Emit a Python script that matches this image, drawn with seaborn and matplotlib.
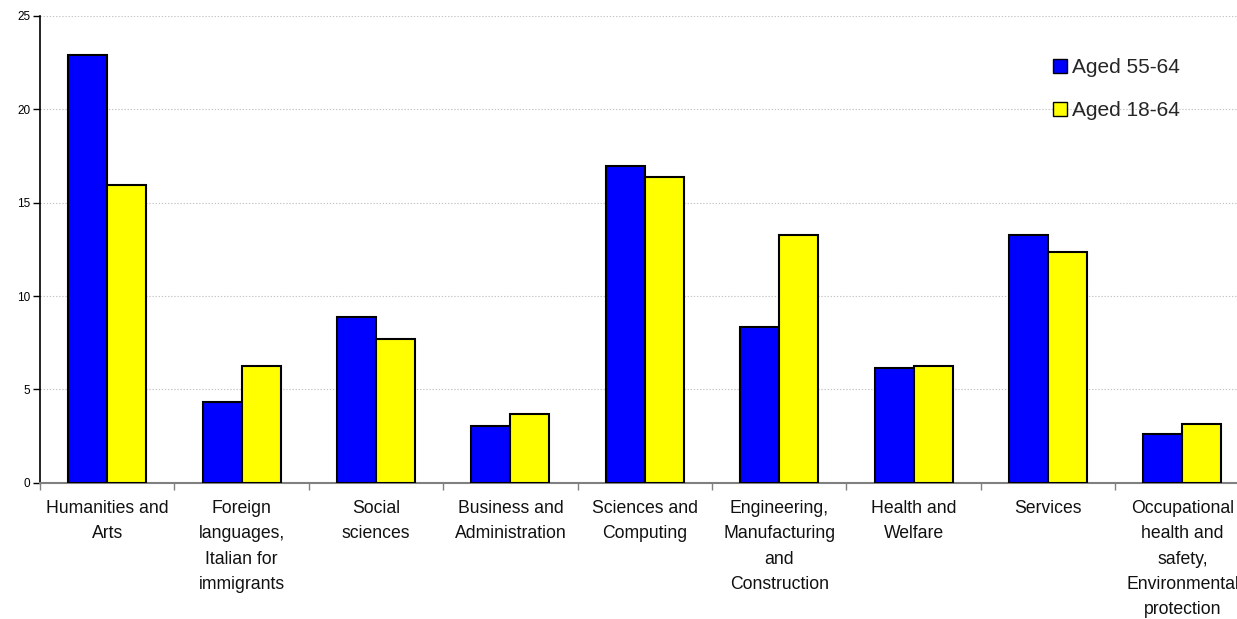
import matplotlib
matplotlib.use("Agg")
import matplotlib.pyplot as plt
from matplotlib.lines import Line2D
from matplotlib.ticker import FixedLocator
import numpy as np
import pandas as pd
import seaborn as sns

# Share of course participants by field of study (%)
categories = [
    "Humanities and\nArts",
    "Foreign\nlanguages,\nItalian for\nimmigrants",
    "Social\nsciences",
    "Business and\nAdministration",
    "Sciences and\nComputing",
    "Engineering,\nManufacturing\nand\nConstruction",
    "Health and\nWelfare",
    "Services",
    "Occupational\nhealth and\nsafety,\nEnvironmental\nprotection",
]
aged_55_64 = [22.9, 4.34, 8.9, 3.04, 16.95, 8.34, 6.14, 13.28, 2.59]
aged_18_64 = [15.93, 6.25, 7.68, 3.68, 16.39, 13.28, 6.25, 12.36, 3.13]
series_names = ["Aged 55-64", "Aged 18-64"]
series_colors = ["#0000ff", "#ffff00"]
y_ticks = [0, 5, 10, 15, 20, 25]

df = pd.DataFrame({
    "category": categories * 2,
    "value": aged_55_64 + aged_18_64,
    "group": [series_names[0]] * len(categories) + [series_names[1]] * len(categories),
})

sns.set_theme(style="white")
plt.rcParams["font.family"] = ["Liberation Sans", "DejaVu Sans"]

W, H = 1237, 619
fig = plt.figure(figsize=(W / 100, H / 100), dpi=100)
fig.patch.set_facecolor("white")
ax_left, ax_right = 40, 40 + 9 * 134.4
ax_bottom, ax_top = 482.7, 16
ax = fig.add_axes([ax_left / W, (H - ax_bottom) / H,
                   (ax_right - ax_left) / W, (ax_bottom - ax_top) / H])

sns.barplot(data=df, x="category", y="value", hue="group", order=categories,
            hue_order=series_names, palette=series_colors, width=0.58,
            edgecolor="black", linewidth=1.5, saturation=1, ax=ax,
            legend=False, zorder=3)

ax.set_xlim(-0.5, len(categories) - 0.5)
ax.set_ylim(0, 25)
ax.set_xlabel("")
ax.set_ylabel("")

# y axis
ax.set_yticks(y_ticks)
ax.set_yticklabels([str(t) for t in y_ticks], fontsize=8.5, color="black")
ax.yaxis.grid(True, linestyle=(0, (1.2, 1.6)), color="#c4c4c4", linewidth=0.8, zorder=0)
ax.xaxis.grid(False)
ax.tick_params(axis="y", which="major", left=True, length=5, width=1,
               color="black", pad=2)

# x axis: labels at centres, tick marks on category boundaries
ax.set_xticks(range(len(categories)))
ax.set_xticklabels(categories, fontsize=12.7, color="#111111", linespacing=1.64)
ax.xaxis.set_minor_locator(FixedLocator(np.arange(-0.5, len(categories), 1.0)))
ax.tick_params(axis="x", which="major", length=0, pad=12.5)
ax.tick_params(axis="x", which="minor", bottom=True, length=5, width=1, color="#808080")

for side in ("top", "right"):
    ax.spines[side].set_visible(False)
ax.spines["left"].set_color("black")
ax.spines["left"].set_linewidth(1.2)
ax.spines["bottom"].set_color("#808080")
ax.spines["bottom"].set_linewidth(1.5)
ax.set_axisbelow(True)

handles = [Line2D([0], [0], marker="s", linestyle="none", markersize=9.5,
                  markerfacecolor=c, markeredgecolor="black", markeredgewidth=1.0)
           for c in series_colors]
fig.legend(handles, series_names, loc="upper left",
           bbox_to_anchor=(1041 / W, 1 - 50 / H), frameon=False,
           fontsize=15, handletextpad=0.1, labelspacing=1.15,
           borderaxespad=0, handlelength=1.0)

fig.savefig("out.png", dpi=100, facecolor="white")
